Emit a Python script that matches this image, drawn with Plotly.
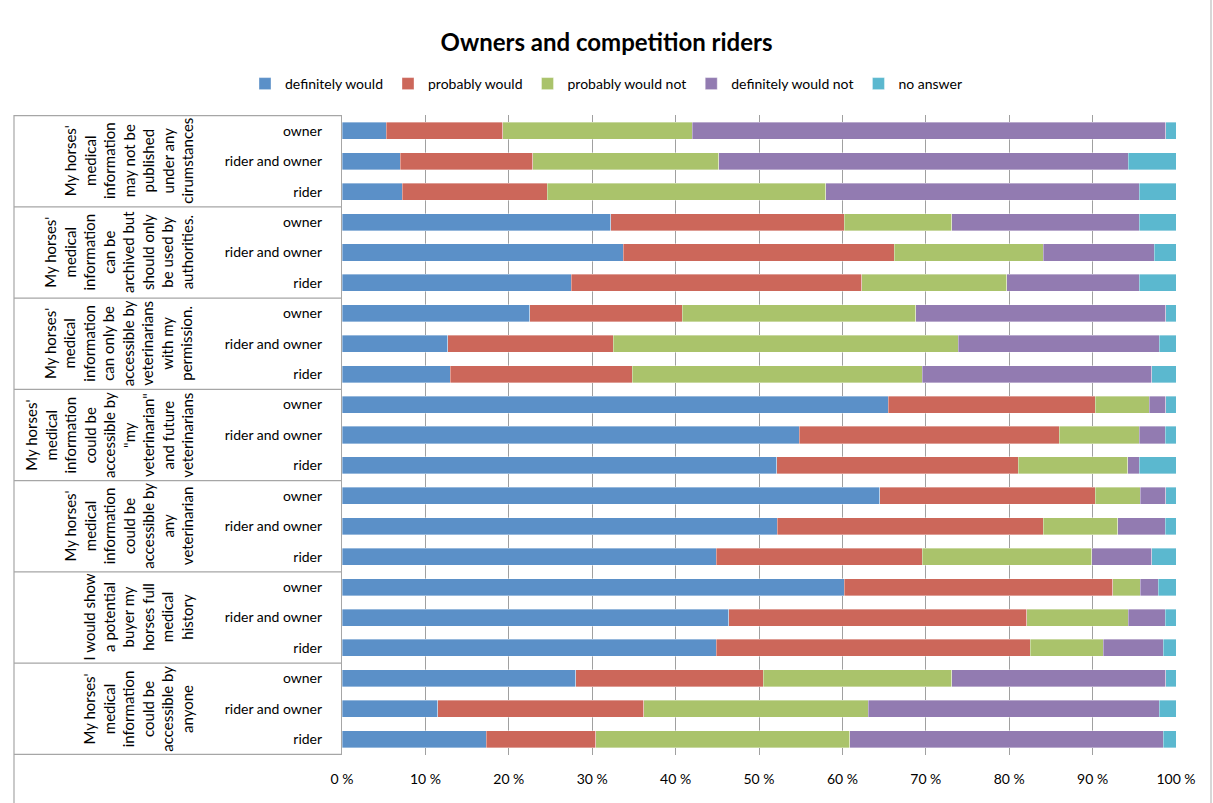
import plotly.graph_objects as go

# ---- data ----
groups = [
    "My horses'<br>medical<br>information<br>may not be<br>published<br>under any<br>cirumstances",
    "My horses'<br>medical<br>information<br>can be<br>archived but<br>should only<br>be used by<br>authorities.",
    "My horses'<br>medical<br>information<br>can only be<br>accessible by<br>veterinarians<br>with my<br>permission.",
    "My horses'<br>medical<br>information<br>could be<br>accessible by<br>\"my<br>veterinarian\"<br>and future<br>veterinarians",
    "My horses'<br>medical<br>information<br>could be<br>accessible by<br>any<br>veterinarian",
    "I would show<br>a potential<br>buyer my<br>horses full<br>medical<br>history",
    "My horses'<br>medical<br>information<br>could be<br>accessible by<br>anyone",
]
subgroups = ["owner", "rider and owner", "rider"]

series_names = ["definitely would", "probably would", "probably would not",
                "definitely would not", "no answer"]

# percentages, order: group1 (owner, rider and owner, rider), group2 ..., group7
definitely_would = [5.3, 7.0, 7.2,
                    32.2, 33.7, 27.5,
                    22.5, 12.7, 13.0,
                    65.5, 54.8, 52.1,
                    64.5, 52.2, 44.9,
                    60.2, 46.4, 44.9,
                    28.0, 11.5, 17.3]
probably_would = [14.0, 15.9, 17.4,
                  28.0, 32.5, 34.8,
                  18.3, 19.8, 21.8,
                  24.8, 31.2, 29.0,
                  25.8, 31.9, 24.7,
                  32.2, 35.7, 37.6,
                  22.5, 24.7, 13.1]
probably_would_not = [22.7, 22.3, 33.4,
                      12.9, 17.9, 17.4,
                      28.0, 41.4, 34.8,
                      6.5, 9.6, 13.1,
                      5.4, 8.9, 20.3,
                      3.3, 12.2, 8.8,
                      22.6, 26.9, 30.5]
definitely_would_not = [56.8, 49.1, 37.6,
                        22.5, 13.3, 15.9,
                        30.0, 24.1, 27.5,
                        2.0, 3.1, 1.4,
                        3.1, 5.7, 7.2,
                        2.2, 4.4, 7.2,
                        25.7, 34.9, 37.6]
no_answer = [1.2, 5.7, 4.4,
             4.4, 2.6, 4.4,
             1.2, 2.0, 2.9,
             1.2, 1.3, 4.4,
             1.2, 1.3, 2.9,
             2.1, 1.3, 1.5,
             1.2, 2.0, 1.5]

x_tickvals = [0, 10, 20, 30, 40, 50, 60, 70, 80, 90, 100]
x_ticktext = ["0 %", "10 %", "20 %", "30 %", "40 %", "50 %", "60 %",
              "70 %", "80 %", "90 %", "100 %"]

colors = ["#5B90C8", "#CC675A", "#AAC36B", "#927BB1", "#5BB8CF"]
values = [definitely_would, probably_would, probably_would_not,
          definitely_would_not, no_answer]

# ---- category ids ----
cat_ids = []
cat_text = []
for gi in range(len(groups)):
    for s in subgroups:
        cat_ids.append(f"g{gi}|{s}")
        cat_text.append(s)

W, H = 1213, 803
ML, MR, MT, MB = 342, 37, 115, 48
PW = W - ML - MR
PH = H - MT - MB

FONT = "Lato, 'Open Sans', sans-serif"

fig = go.Figure()
for name, vals, col in zip(series_names, values, colors):
    fig.add_trace(go.Bar(
        y=cat_ids, x=vals, name=name, orientation="h",
        marker=dict(color=col, line=dict(color="rgba(255,255,255,0.45)", width=0.8)),
    ))

def px_x(px):
    return (px - ML) / PW

def px_y(py):
    return 1 - (py - MT) / PH

shapes = []
line_col = "#A6A6A6"
# group separators in the label area
for k in range(len(groups) + 1):
    shapes.append(dict(type="line", xref="paper", yref="y",
                       x0=px_x(14), x1=0, y0=k * 3 - 0.5, y1=k * 3 - 0.5,
                       line=dict(color=line_col, width=1.2)))
# left border of label area and right border of chart
shapes.append(dict(type="line", xref="paper", yref="paper",
                   x0=px_x(14), x1=px_x(14), y0=1, y1=px_y(H),
                   line=dict(color=line_col, width=1.2)))
shapes.append(dict(type="line", xref="paper", yref="paper",
                   x0=px_x(1211), x1=px_x(1211), y0=px_y(0), y1=px_y(H),
                   line=dict(color="#BDBDBD", width=1.2)))

annotations = []
for gi, g in enumerate(groups):
    annotations.append(dict(
        text=g, xref="paper", yref="y", x=px_x(198), y=f"g{gi}|rider and owner",
        xanchor="right", yanchor="middle", textangle=-90, showarrow=False,
        align="center", font=dict(family=FONT, size=15, color="#000000"),
    ))

fig.update_layout(
    width=W, height=H,
    margin=dict(l=ML, r=MR, t=MT, b=MB, pad=0),
    barmode="stack", bargap=0.44,
    plot_bgcolor="white", paper_bgcolor="white",
    title=dict(text="<b>Owners and competition riders</b>", x=0.5, xref="container",
               xanchor="center", y=1 - 43 / H, yref="container", yanchor="middle",
               font=dict(family=FONT, size=24, color="#000000")),
    legend=dict(orientation="h", xref="container", x=0.5, xanchor="center",
                yref="container", y=1 - 84 / H, yanchor="middle",
                font=dict(family=FONT, size=14, color="#000000"),
                itemwidth=30, traceorder="normal", bgcolor="rgba(0,0,0,0)"),
    xaxis=dict(range=[0, 100], tickmode="array", tickvals=x_tickvals, ticktext=x_ticktext,
               showgrid=True, gridcolor="#A0A0A0", gridwidth=1.2,
               zeroline=False, showline=False, ticks="",
               tickfont=dict(family=FONT, size=14, color="#000000"),
               ticklabelstandoff=14, fixedrange=True),
    yaxis=dict(type="category", categoryorder="array", categoryarray=cat_ids,
               tickmode="array", tickvals=cat_ids, ticktext=cat_text, autorange="reversed",
               showline=True, linecolor=line_col, linewidth=1.2,
               showgrid=False, ticks="", ticklabelstandoff=16,
               tickfont=dict(family=FONT, size=14, color="#000000"), fixedrange=True),
    shapes=shapes, annotations=annotations,
    showlegend=True,
)

fig.write_html("out.html")
